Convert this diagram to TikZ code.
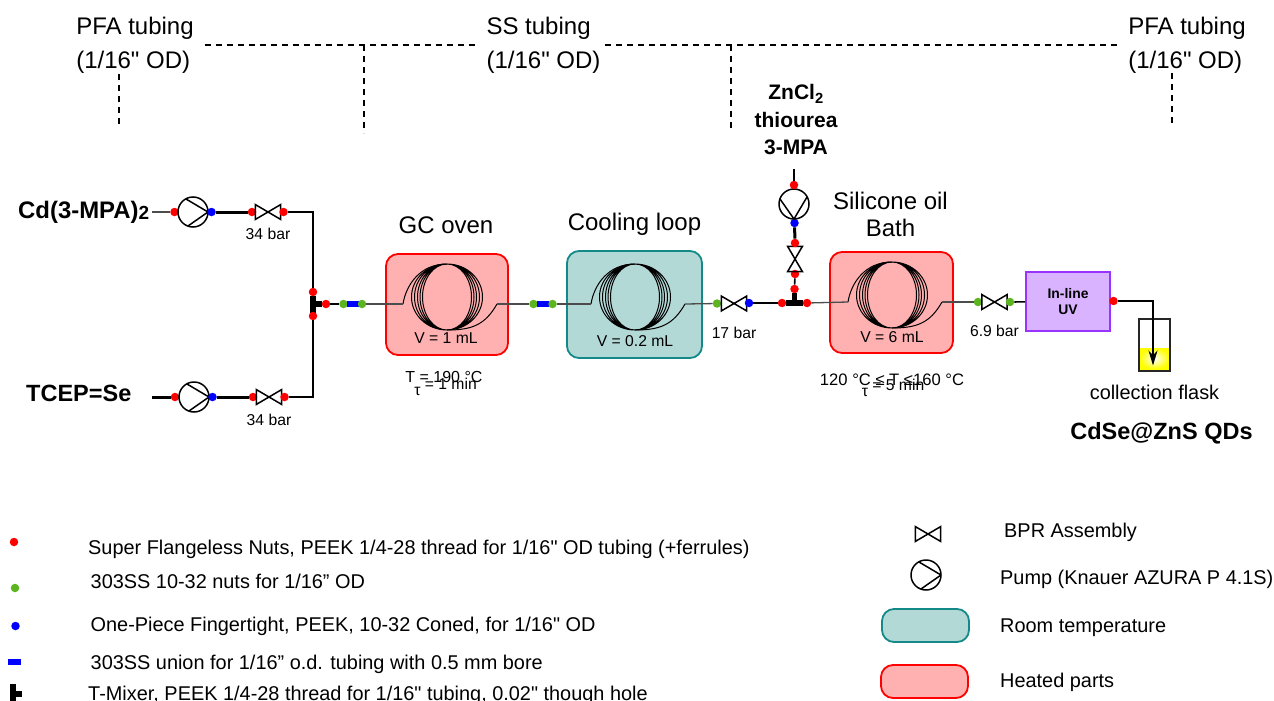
\documentclass[tikz,border=0pt]{standalone}
\usepackage{fontspec}
\setmainfont{Liberation Sans}[Ligatures=TeXOff]
\usetikzlibrary{arrows.meta,positioning}
\definecolor{HeatFill}{HTML}{FFB0B0}
\definecolor{HeatEdge}{HTML}{FF0000}
\definecolor{RoomFill}{HTML}{B3D9D7}
\definecolor{RoomEdge}{HTML}{138A87}
\definecolor{LampFill}{HTML}{D9B3FF}
\definecolor{LampEdge}{HTML}{9933FF}
\definecolor{NutGreen}{HTML}{5CB51E}
\tikzset{
  bigtext/.style={font=\fontsize{24}{27}\selectfont, inner sep=0pt, align=center},
  tubing/.style={font=\fontsize{24}{34}\selectfont, inner sep=0pt, outer xsep=11pt, align=left},
  reagent/.style={font=\fontsize{23.5}{27}\selectfont\bfseries, inner sep=0pt, align=center},
  feedtext/.style={font=\fontsize{21}{27.5}\selectfont\bfseries, inner sep=0pt, align=center},
  smalltext/.style={font=\fontsize{15.7}{18}\selectfont, inner sep=0pt, align=center},
  flasktext/.style={font=\fontsize{19.9}{24}\selectfont, inner sep=0pt},
  legendtext/.style={font=\fontsize{19.9}{24}\selectfont, inner sep=0pt, anchor=west},
  heated/.style={draw=HeatEdge, line width=1.8pt, rounded corners=12pt, fill=HeatFill},
  room/.style={draw=RoomEdge, line width=1.8pt, rounded corners=12pt, fill=RoomFill},
  lamp/.style={draw=LampEdge, line width=1.8pt, fill=LampFill, align=center, inner sep=0pt,
    minimum width=84, minimum height=59, font=\fontsize{13.9}{17}\selectfont\bfseries},
  nut/.style={circle, inner sep=0pt, minimum size=8.5},
  rednut/.style={nut, fill=HeatEdge},
  greennut/.style={nut, fill=NutGreen},
  bluenut/.style={nut, fill=blue},
  union/.style={fill=blue, inner sep=0pt, minimum width=12.5, minimum height=5.5},
  teebar/.style={fill=black, inner sep=0pt, minimum width=6, minimum height=17},
  teebarflat/.style={fill=black, inner sep=0pt, minimum width=17, minimum height=6},
  pump/.style={circle, draw, line width=1.5pt, inner sep=0pt, minimum size=30},
  pumpright/.style={pump, path picture={
    \draw[line width=1.5pt] ([shift={(-7,-13)}]path picture bounding box.center)
      -- ([shift={(15,0)}]path picture bounding box.center)
      -- ([shift={(-5,14)}]path picture bounding box.center);}},
  pumpdown/.style={pump, path picture={
    \draw[line width=1.5pt] ([shift={(-14,-5)}]path picture bounding box.center)
      -- ([shift={(0,15)}]path picture bounding box.center)
      -- ([shift={(13,-7)}]path picture bounding box.center);}},
  bpr/.style={inner sep=0pt, minimum width=25, minimum height=14.5,
    append after command={\pgfextra{\draw[line width=1.5pt]
      (\tikzlastnode.north west) -- (\tikzlastnode.south east) -- (\tikzlastnode.north east)
      -- (\tikzlastnode.south west) -- cycle;}}},
  bprup/.style={inner sep=0pt, minimum width=14.5, minimum height=25,
    append after command={\pgfextra{\draw[line width=1.5pt]
      (\tikzlastnode.north west) -- (\tikzlastnode.south east) -- (\tikzlastnode.south west)
      -- (\tikzlastnode.north east) -- cycle;}}},
  greytube/.style={draw=black!70, line width=1.3pt},
  tube/.style={draw=black, line width=1.6pt},
  heavytube/.style={draw=black, line width=3pt},
  teestub/.style={draw=black, line width=5.5pt},
  sectionline/.style={draw=black, line width=1.5pt, dash pattern=on 6pt off 5pt},
  outlet/.style={tube, -{Stealth[length=15pt, width=9pt]}},
  flask/.style={draw=black!85, line width=1.5pt, inner sep=0pt, minimum width=31, minimum height=52},
  liquid/.style={inner sep=0pt, minimum width=29, minimum height=21, inner color=white, outer color=yellow},
  pics/coil/.style={code={
    \coordinate (-in) at (-44,7);
    \coordinate (-out) at (50,7);
    \draw[line width=1pt] (0,0) ellipse (24.5 and 33) (0,0) ellipse (27 and 33)
      (0,0) ellipse (29.5 and 33) (0,0) ellipse (32.5 and 33) (0,0) ellipse (35.5 and 33);
    \draw[line width=1pt] (-44,7) .. controls (-41,-12) and (-27,-33) .. (0,-33);
    \draw[line width=1pt] (0,33) .. controls (25,33) and (38,28) .. (50,7);
  }}
}
\begin{document}
\begin{tikzpicture}[x=1pt, y=-1pt]
  \useasboundingbox (0,0) rectangle (1274,701);

  \node[tubing] (pfaleft) at (135,45) {PFA tubing\\(1/16" OD)};
  \node[tubing] (ssmid) at (543.5,45) {SS tubing\\(1/16" OD)};
  \node[tubing] (pfaright) at (1187,45) {PFA tubing\\(1/16" OD)};
  \draw[sectionline] (pfaleft) -- (ssmid);
  \draw[sectionline] ([xshift=-6pt]ssmid.east) -- ([xshift=3pt]pfaright.west);
  \coordinate (tapa) at (119,74);
  \coordinate (tapaend) at (119,128);
  \coordinate (tapb) at (364,45);
  \coordinate (tapbend) at (364,133);
  \coordinate (tapc) at (731,45);
  \coordinate (tapcend) at (731,131);
  \coordinate (tapd) at (1172,73);
  \coordinate (tapdend) at (1172,125);
  \draw[sectionline] (tapa) -- (tapaend);
  \draw[sectionline] (tapb) -- (tapbend);
  \draw[sectionline] (tapc) -- (tapcend);
  \draw[sectionline] (tapd) -- (tapdend);

  \node[heated, minimum width=122, minimum height=101] (gcbox) at (447,304.5) {};
  \node[room, minimum width=135, minimum height=107] (coolbox) at (634.5,304.5) {};
  \node[heated, minimum width=123, minimum height=101] (oilbox) at (891.5,302.5) {};
  \pic (gccoil) at (447,297) {coil};
  \pic (coolcoil) at (635,297) {coil};
  \pic (oilcoil) at (892,295) {coil};
  \node[bigtext, above=19pt of gcbox, xshift=-1pt] (gclabel) {GC oven};
  \node[bigtext, above=14pt of coolbox] (coollabel) {Cooling loop};
  \node[bigtext, above=14pt of oilbox, xshift=-1pt] (oillabel) {Silicone oil\\Bath};
  \node[smalltext] (gcvol) at (446,338) {V = 1 mL};
  \node[smalltext] (coolvol) at (635,341) {V = 0.2 mL};
  \node[smalltext] (oilvol) at (892,337) {V = 6 mL};
  \node[smalltext, font=\fontsize{16}{18}\selectfont] (gctemp) at (444,377) {T = 190 °C};
  \node[smalltext] (gctime) at (445.5,387) {\raisebox{-6pt}{τ} = 1 min};
  \node[smalltext, font=\fontsize{16.6}{18}\selectfont] (oiltemp) at (892,380) {120 °C ≤ T ≤160 °C};
  \node[smalltext] (oiltime) at (893,387.5) {\raisebox{-6pt}{τ} = 5 min};

  \node[reagent, font=\fontsize{23.9}{27}\selectfont\bfseries, anchor=west] (cdsrc) at (18,212.5) {Cd(3-MPA){\fontsize{19}{19}\selectfont\raisebox{-1pt}{2}}};
  \node[reagent, anchor=west] (tcepsrc) at (26,393) {TCEP=Se};
  \coordinate (cdstart) at (152,212);
  \coordinate (tcepstart) at (152,397);
  \node[rednut] (cdin) at (174.5,212) {};
  \node[pumpright] (cdpump) at (193,212) {};
  \node[bluenut] (cdpumpout) at (211.5,212) {};
  \node[rednut] (cdbprin) at (252,212) {};
  \node[bpr] (cdbpr) at (268,212) {};
  \node[rednut] (cdbprout) at (283.5,212) {};
  \node[smalltext, below=8pt of cdbpr] (cdbar) {34 bar};
  \node[rednut] (tcepin) at (175,397) {};
  \node[pumpright] (tceppump) at (194,397) {};
  \node[bluenut] (tceppumpout) at (212.5,397) {};
  \node[rednut] (tcepbprin) at (253,397) {};
  \node[bpr] (tcepbpr) at (269,397) {};
  \node[rednut] (tcepbprout) at (284.5,397) {};
  \node[smalltext, below=9pt of tcepbpr] (tcepbar) {34 bar};
  \node[teebar] (mixa) at (313,304) {};
  \node[rednut] (mixatop) at (313,292) {};
  \node[rednut] (mixabot) at (313,316) {};
  \node[rednut] (mixaout) at (326,304) {};
  \node[greennut] (unionain) at (343.5,304) {};
  \node[union] (uniona) at (353,304) {};
  \node[greennut] (unionaout) at (362,304) {};
  \node[greennut] (unionbin) at (533.5,304) {};
  \node[union] (unionb) at (543,304) {};
  \node[greennut] (unionbout) at (552.5,304) {};
  \node[greennut] (midbprin) at (717,303.5) {};
  \node[bpr] (midbpr) at (734,303.5) {};
  \node[bluenut] (midbprout) at (749,303) {};
  \node[smalltext, below=16pt of midbpr] (midbar) {17 bar};
  \node[teebarflat] (mixb) at (794.5,303) {};
  \node[rednut] (mixbin) at (782,303) {};
  \node[rednut] (mixbout) at (807,303) {};
  \node[rednut] (mixbtop) at (794.5,289) {};
  \node[rednut] (znbprout) at (795,274) {};
  \node[bprup] (znbpr) at (795,259) {};
  \node[rednut] (znbprin) at (795,243) {};
  \node[bluenut] (znpumpout) at (794.5,223) {};
  \node[pumpdown] (znpump) at (794,204) {};
  \node[rednut] (znin) at (794,185) {};
  \coordinate (znstart) at (794,169);
  \node[feedtext] (znsrc) at (796,120) {ZnCl\textsubscript{2}\\thiourea\\3-MPA};
  \node[greennut] (lastbprin) at (978,302) {};
  \node[bpr] (lastbpr) at (994.5,302) {};
  \node[greennut] (lastbprout) at (1010,302) {};
  \node[smalltext, below=15pt of lastbpr] (lastbar) {6.9 bar};
  \node[lamp] (uvcell) at (1068,301.5) {\raisebox{-1pt}{In-line}\\UV};
  \node[rednut] (uvout) at (1113.5,301) {};
  \node[liquid] (flaskfill) at (1154.5,358.5) {};
  \node[flask] (flaskbody) at (1154.5,345) {};
  \coordinate (flasktip) at (1153,365.5);
  \node[flasktext, below=13pt of flaskbody] (flasklabel) {collection flask};
  \node[reagent] (product) at (1161.5,433) {CdSe@ZnS QDs};

  \draw[greytube] (cdstart) -- (cdin);
  \draw[heavytube] (cdpumpout) -- (cdbprin);
  \draw[tube] (cdbprout) -| (mixatop);
  \draw[heavytube] (tcepstart) -- (tcepin);
  \draw[heavytube] (tceppumpout) -- (tcepbprin);
  \draw[tube] (tcepbprout) -| (mixabot);
  \draw[teestub] (mixa) -- (mixaout);
  \draw[tube] (mixaout) -- (unionain);
  \draw[greytube] (unionaout) -- (gccoil-in);
  \draw[greytube] (gccoil-out) -- (unionbin);
  \draw[greytube] (unionbout) -- (coolcoil-in);
  \draw[greytube] (coolcoil-out) -- (midbprin);
  \draw[tube] (midbprout) -- (mixbin);
  \draw[teestub] (mixb) -- (mixbtop);
  \draw[greytube] (mixbout) -- (oilcoil-in);
  \draw[tube] (mixbtop) -- (znbprout);
  \draw[heavytube] (znbprin) -- (znpumpout);
  \draw[tube] (znstart) -- (znin);
  \draw[greytube] (oilcoil-out) -- (lastbprin);
  \draw[tube] (lastbprout) -- (uvcell);
  \draw[outlet] (uvout) -| (flasktip);

  \node[rednut] (keyred) at (14,542) {};
  \node[greennut] (keygreen) at (15,588) {};
  \node[bluenut] (keyblue) at (15.5,626) {};
  \node[union] (keyunion) at (14.5,662) {};
  \node[teebar, minimum height=20] (keytee) at (13,694) {};
  \coordinate (keystub) at (22,694);
  \draw[teestub, line width=6pt] (keytee) -- (keystub);
  \node[legendtext] (keyredtext) at (88,549) {Super Flangeless Nuts, PEEK 1/4-28 thread for 1/16" OD tubing (+ferrules)};
  \node[legendtext] (keygreentext) at (90.5,581) {303SS 10-32 nuts for 1/16” OD};
  \node[legendtext] (keybluetext) at (90.5,626) {One-Piece Fingertight, PEEK, 10-32 Coned, for 1/16" OD};
  \node[legendtext] (keyuniontext) at (90.5,664) {303SS union for 1/16” o.d. tubing with 0.5 mm bore};
  \node[legendtext] (keyteetext) at (88,695) {T-Mixer, PEEK 1/4-28 thread for 1/16" tubing, 0.02" though hole};

  \node[bpr] (keybpr) at (928,534) {};
  \node[pumpright] (keypump) at (926,575) {};
  \node[room, minimum width=87, minimum height=33] (keyroom) at (925.5,625.5) {};
  \node[heated, minimum width=87, minimum height=33] (keyheat) at (924.5,681.5) {};
  \node[legendtext] (keybprtext) at (1004,532) {BPR Assembly};
  \node[legendtext] (keypumptext) at (1000,579) {Pump (Knauer AZURA P 4.1S)};
  \node[legendtext] (keyroomtext) at (1000,628) {Room temperature};
  \node[legendtext] (keyheattext) at (1000,682) {Heated parts};
\end{tikzpicture}
\end{document}
